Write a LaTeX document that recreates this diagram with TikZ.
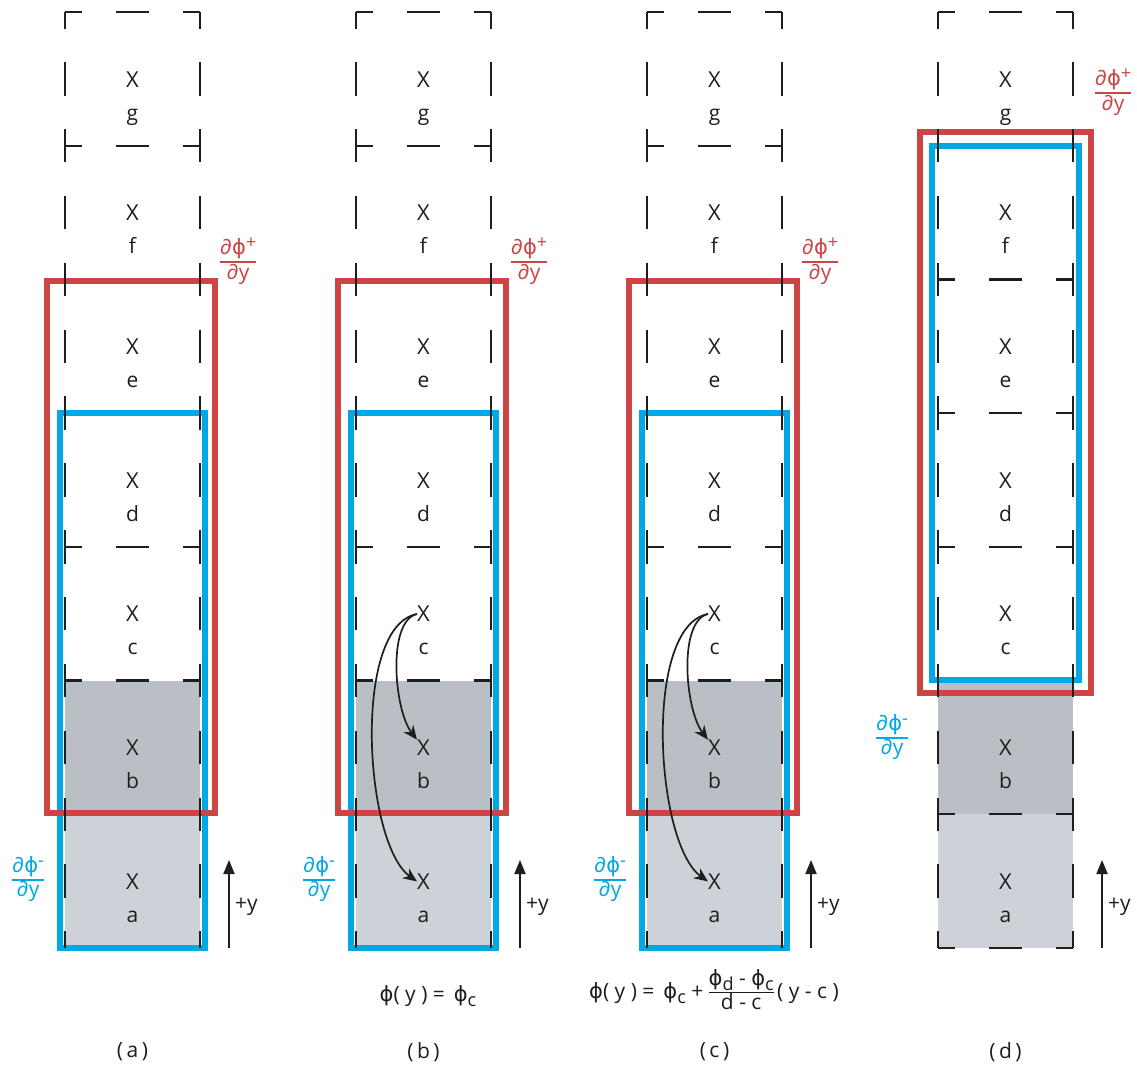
\documentclass[tikz,border=0pt]{standalone}
\usepackage{fontspec}
\setmainfont{Open Sans}
\newfontfamily\phifont{DejaVu Sans}
\usetikzlibrary{arrows.meta}
\definecolor{myred}{RGB}{204,68,68}
\definecolor{myblue}{RGB}{0,168,228}
\definecolor{grayB}{RGB}{186,191,198}
\definecolor{grayA}{RGB}{205,210,216}
\definecolor{ink}{RGB}{30,30,30}
\newcommand\fracbox[3]{{\setlength\arrayrulewidth{#3}\renewcommand\arraystretch{0.95}\begin{tabular}{@{}c@{}}#1\\\hline #2\end{tabular}}}
\newcommand\ph{{\phifont ϕ}}
\newcommand\supr[1]{\raisebox{6pt}{\fontsize{18}{20}\selectfont #1}}
\newcommand\subr[1]{\raisebox{-5pt}{\fontsize{18}{20}\selectfont #1}}
\tikzset{
 vdash/.style={draw=ink, line width=2.4pt, dash pattern=on 33.43pt off 33.43pt, dash phase=16.71pt},
 hdash/.style={draw=ink, line width=2.4pt, dash pattern=on 33.75pt off 33.75pt, dash phase=16.875pt},
 redbox/.style={draw=myred, line width=6.5pt},
 bluebox/.style={draw=myblue, line width=6.5pt},
 cellX/.style={font=\fontsize{22}{26}\selectfont, inner sep=0pt, text=ink, anchor=base},
 cellL/.style={font=\fontsize{21}{26}\selectfont, inner sep=0pt, text=ink, anchor=base},
 redlab/.style={font=\fontsize{21}{24}\selectfont, inner sep=0pt, text=myred},
 bluelab/.style={font=\fontsize{21}{24}\selectfont, inner sep=0pt, text=myblue},
 flowarrow/.style={draw=ink, line width=1.7pt, -{Stealth[length=14pt,width=12pt]}},
 yarrow/.style={draw=ink, line width=2pt, -{Triangle[length=14pt,width=11pt]}},
 plainlab/.style={font=\fontsize{21}{24}\selectfont, inner sep=0pt, text=ink},
}
\begin{document}
\begin{tikzpicture}[x=1pt,y=-1pt]
\useasboundingbox (0,0) rectangle (1137,1073);
\fill[white] (0,0) rectangle (1137,1073);
\foreach \p/\ox/\isd in {a/0/0,b/291/0,c/582/0,d/873/1}{
 \begin{scope}[xshift=\ox pt]
  % fills
  \fill[grayB] (65,680.6) rectangle (200,814.3);
  \fill[grayA] (65,814.3) rectangle (200,948);
  % horizontal boundaries
  \foreach \k in {0,...,7}{
   \draw[hdash] (65,{12+\k*133.714}) -- (200,{12+\k*133.714});
  }
  % boxes
  \ifnum\isd=1
   \draw[bluebox] (59,146) rectangle (206,680);
   \draw[redbox] (47,132) rectangle (218,693);
   \node[redlab] (\p-plus) at (240,93) {\fracbox{∂\ph\supr{+}}{∂y}{2pt}};
   \node[bluelab] (\p-minus) at (19,738) {\fracbox{∂\ph\supr{-}}{∂y}{2pt}};
  \else
   \draw[bluebox] (60,413) rectangle (205,948);
   \draw[redbox] (47,281) rectangle (215,813);
   \node[redlab] (\p-plus) at (238,262) {\fracbox{∂\ph\supr{+}}{∂y}{2pt}};
   \node[bluelab] (\p-minus) at (28,880) {\fracbox{∂\ph\supr{-}}{∂y}{2pt}};
  \fi
  % vertical edges
  \draw[vdash] (65,12) -- (65,948);
  \draw[vdash] (200,12) -- (200,948);
  % cell texts
  \foreach \l [count=\i from 0] in {g,f,e,d,c,b,a}{
   \node[cellX] (\p X\l) at (132.5,{12+\i*133.714+75}) {X};
   \node[cellL] (\p L\l) at (132.5,{12+\i*133.714+108}) {\l};
  }
  % +y arrow
  \coordinate (\p-ybot) at (229,948);
  \coordinate (\p-ytop) at (229,860);
  \draw[yarrow] (\p-ybot) -- (\p-ytop);
  \node[plainlab, anchor=west] (\p-ylab) at (235,907) {+y};
  % panel label
  \node[plainlab] (\p-panel) at (132.5,1052) {(\,\p\,)};
 \end{scope}
}
% flow arrows
\foreach \p in {b,c}{
 \draw[flowarrow] (\p Xc.west) .. controls +(-30,7) and +(-23,-30) .. (\p Xb.north west);
 \draw[flowarrow] (\p Xc.west) .. controls +(-65,12) and +(-53,-38) .. (\p Xa.west);
}
% formulas
\node[plainlab, anchor=base] (formb) at (428,1001) {\ph( y ) = \,\ph\subr{c}};
\node[plainlab, anchor=base] (formc) at (714,998) {\ph( y ) = \,\ph\subr{c} + \fracbox{\ph\subr{d} - \ph\subr{c}}{d - c}{1pt}\,( y - c )};
\end{tikzpicture}
\end{document}
